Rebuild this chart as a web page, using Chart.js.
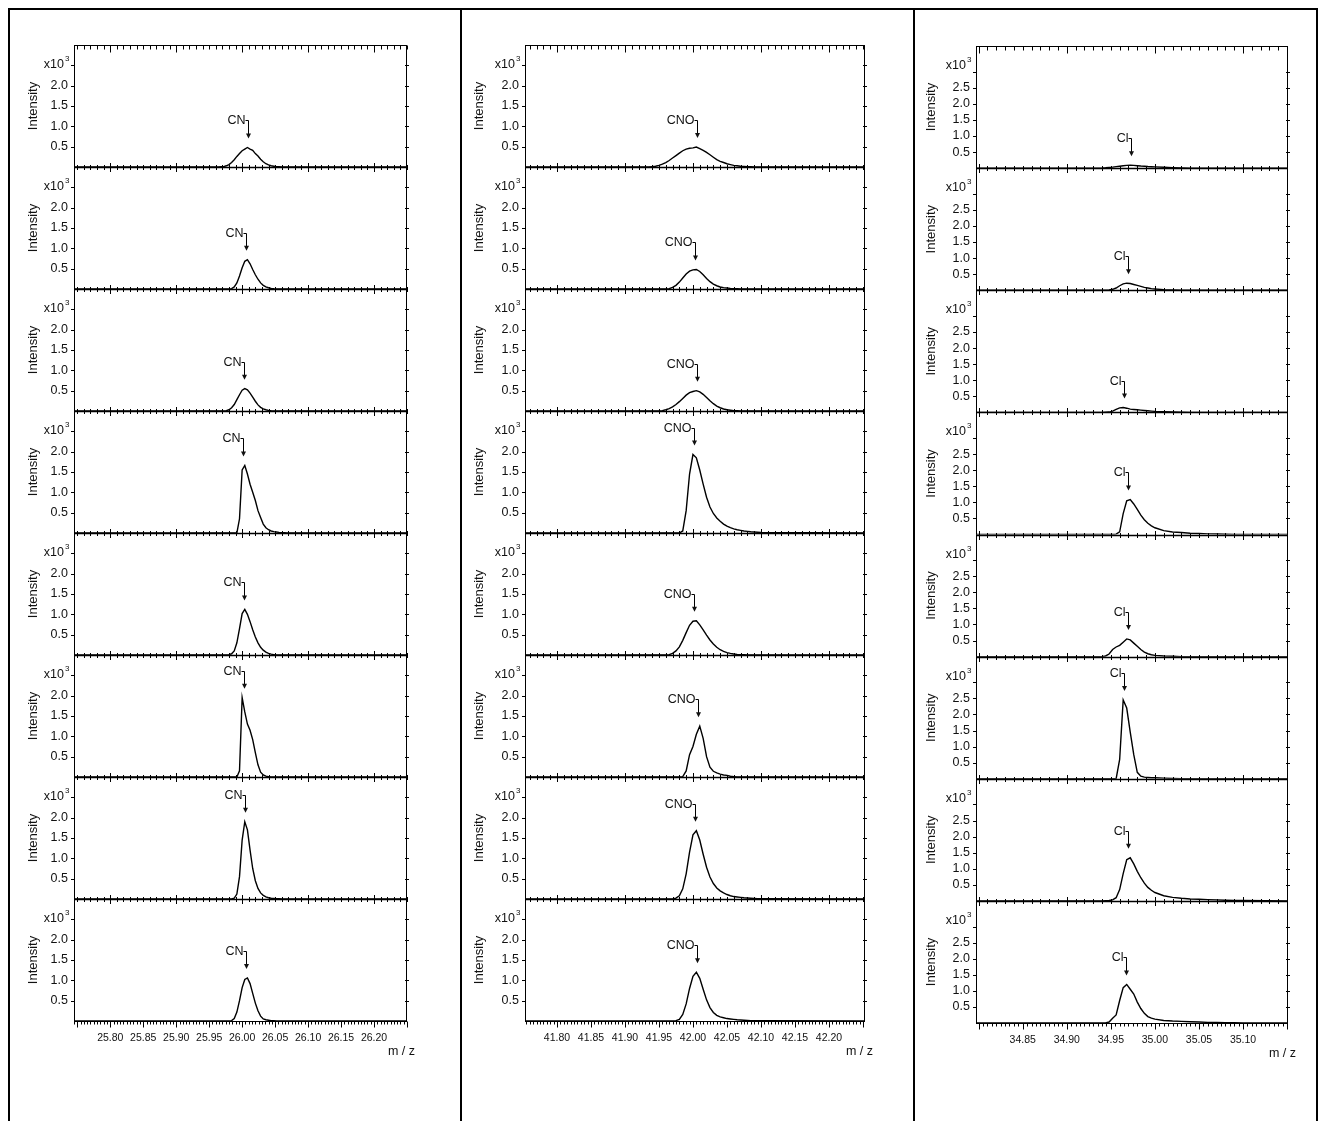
<!DOCTYPE html>
<html lang="en">
<head>
<meta charset="UTF-8">
<title>Mass spectra CN / CNO / Cl</title>
<style>
  body { margin: 0; background: #fff; overflow: hidden; }
  #frame { position: absolute; left: 8px; top: 8px; width: 1306px; height: 1200px; border: 2px solid #000; border-bottom: none; }
  .divider { position: absolute; top: 8px; width: 2px; height: 1200px; background: #000; }
  canvas { position: absolute; top: 10px; }
</style>
</head>
<body>
<div id="frame"></div>
<div class="divider" style="left:460px"></div>
<div class="divider" style="left:913px"></div>
<canvas id="cnChart" width="449" height="1111" style="left:10px"></canvas>
<canvas id="cnoChart" width="450" height="1111" style="left:462px"></canvas>
<canvas id="clChart" width="401" height="1111" style="left:915px"></canvas>
<script src="https://cdn.jsdelivr.net/npm/chart.js"></script>
<script>
// ---- CN column (m/z around 26.00), intensities in x10^3 ----
const cnRange = [25.745, 26.25];
const cnTicks = ['25.80', '25.85', '25.90', '25.95', '26.00', '26.05', '26.10', '26.15', '26.20'];
const cnYTicks = ['0.5', '1.0', '1.5', '2.0'];
const cnArrow = [26.009, 26.006, 26.003, 26.0015, 26.003, 26.003, 26.0045, 26.006];
const cnMz = [25.745, 25.960, 25.964, 25.968, 25.972, 25.976, 25.980, 25.984, 25.988, 25.992, 25.996,
  26.000, 26.004, 26.008, 26.012, 26.016, 26.020, 26.024, 26.028, 26.032, 26.036, 26.040, 26.044,
  26.048, 26.052, 26.056, 26.060, 26.064, 26.068, 26.072, 26.076, 26.080, 26.250];
const cn1 = [0, 0, 0, 0.005, 0.01, 0.03, 0.06, 0.11, 0.18, 0.26, 0.33, 0.4, 0.44, 0.48, 0.44, 0.41, 0.33, 0.27, 0.19, 0.13, 0.08, 0.05, 0.03, 0.02, 0.01, 0.005, 0, 0, 0, 0, 0, 0, 0];
const cn2 = [0, 0, 0, 0, 0, 0, 0, 0.01, 0.05, 0.15, 0.32, 0.52, 0.68, 0.72, 0.62, 0.48, 0.35, 0.24, 0.15, 0.09, 0.05, 0.03, 0.015, 0.005, 0, 0, 0, 0, 0, 0, 0, 0, 0];
const cn3 = [0, 0, 0, 0, 0, 0.01, 0.03, 0.08, 0.16, 0.28, 0.4, 0.51, 0.55, 0.52, 0.44, 0.34, 0.24, 0.15, 0.09, 0.05, 0.03, 0.015, 0.005, 0, 0, 0, 0, 0, 0, 0, 0, 0, 0];
const cn4 = [0, 0, 0, 0, 0, 0, 0, 0, 0, 0, 0.35, 1.55, 1.66, 1.45, 1.2, 1.0, 0.8, 0.55, 0.38, 0.22, 0.13, 0.08, 0.05, 0.035, 0.025, 0.015, 0.01, 0.005, 0, 0, 0, 0, 0];
const cn5 = [0, 0, 0, 0, 0, 0, 0.01, 0.03, 0.1, 0.3, 0.65, 1.02, 1.12, 1.0, 0.82, 0.62, 0.44, 0.3, 0.19, 0.12, 0.07, 0.04, 0.02, 0.01, 0, 0, 0, 0, 0, 0, 0, 0, 0];
const cn6 = [0, 0, 0, 0, 0, 0, 0, 0, 0, 0, 0.15, 1.95, 1.6, 1.3, 1.15, 0.92, 0.6, 0.3, 0.12, 0.05, 0.02, 0.01, 0, 0, 0, 0, 0, 0, 0, 0, 0, 0, 0];
const cn7 = [0, 0, 0, 0, 0, 0, 0, 0, 0.02, 0.12, 0.55, 1.45, 1.9, 1.7, 1.2, 0.75, 0.45, 0.26, 0.15, 0.09, 0.05, 0.03, 0.02, 0.015, 0.01, 0.005, 0, 0, 0, 0, 0, 0, 0];
const cn8 = [0, 0, 0, 0, 0, 0, 0, 0.01, 0.06, 0.22, 0.5, 0.82, 1.02, 1.06, 0.92, 0.68, 0.44, 0.25, 0.12, 0.05, 0.03, 0.02, 0.01, 0.005, 0, 0, 0, 0, 0, 0, 0, 0, 0];

// ---- CNO column (m/z around 42.00) ----
const cnoRange = [41.753, 42.253];
const cnoTicks = ['41.80', '41.85', '41.90', '41.95', '42.00', '42.05', '42.10', '42.15', '42.20'];
const cnoYTicks = ['0.5', '1.0', '1.5', '2.0'];
const cnoArrow = [42.006, 42.003, 42.006, 42.0015, 42.0015, 42.0074, 42.003, 42.006];
const cnoMz = [41.753, 41.930, 41.935, 41.940, 41.945, 41.950, 41.955, 41.960, 41.965, 41.970, 41.975,
  41.980, 41.985, 41.990, 41.995, 42.000, 42.005, 42.010, 42.015, 42.020, 42.025, 42.030, 42.035,
  42.040, 42.045, 42.050, 42.055, 42.060, 42.065, 42.070, 42.075, 42.080, 42.085, 42.090, 42.095,
  42.100, 42.253];
const cno1 = [0, 0, 0, 0.01, 0.02, 0.04, 0.07, 0.11, 0.16, 0.22, 0.28, 0.34, 0.4, 0.44, 0.46, 0.47, 0.49, 0.45, 0.41, 0.36, 0.3, 0.24, 0.18, 0.14, 0.11, 0.08, 0.06, 0.04, 0.03, 0.02, 0.015, 0.01, 0.005, 0, 0, 0, 0];
const cno2 = [0, 0, 0, 0, 0, 0, 0, 0, 0.01, 0.04, 0.09, 0.17, 0.27, 0.37, 0.44, 0.47, 0.48, 0.43, 0.35, 0.26, 0.18, 0.12, 0.08, 0.05, 0.035, 0.025, 0.015, 0.01, 0.005, 0, 0, 0, 0, 0, 0, 0, 0];
const cno3 = [0, 0, 0, 0, 0, 0, 0.01, 0.03, 0.06, 0.1, 0.16, 0.23, 0.31, 0.39, 0.45, 0.48, 0.5, 0.47, 0.41, 0.33, 0.25, 0.18, 0.12, 0.08, 0.05, 0.03, 0.02, 0.01, 0.005, 0, 0, 0, 0, 0, 0, 0, 0];
const cno4 = [0, 0, 0, 0, 0, 0, 0, 0, 0, 0, 0, 0, 0.05, 0.55, 1.45, 1.93, 1.85, 1.55, 1.2, 0.88, 0.64, 0.48, 0.37, 0.29, 0.22, 0.17, 0.13, 0.1, 0.08, 0.065, 0.05, 0.04, 0.03, 0.025, 0.02, 0.015, 0];
const cno5 = [0, 0, 0, 0, 0, 0, 0, 0, 0.01, 0.04, 0.1, 0.2, 0.36, 0.55, 0.73, 0.83, 0.84, 0.74, 0.62, 0.49, 0.37, 0.27, 0.19, 0.13, 0.09, 0.06, 0.04, 0.025, 0.015, 0.01, 0.005, 0, 0, 0, 0, 0, 0];
const cno6 = [0, 0, 0, 0, 0, 0, 0, 0, 0, 0, 0, 0, 0.01, 0.15, 0.55, 0.75, 1.05, 1.25, 0.95, 0.5, 0.24, 0.14, 0.1, 0.07, 0.05, 0.04, 0.02, 0.01, 0, 0, 0, 0, 0, 0, 0, 0, 0];
const cno7 = [0, 0, 0, 0, 0, 0, 0, 0, 0, 0, 0.02, 0.08, 0.25, 0.62, 1.15, 1.58, 1.68, 1.45, 1.1, 0.78, 0.54, 0.38, 0.27, 0.2, 0.15, 0.11, 0.08, 0.06, 0.05, 0.04, 0.03, 0.025, 0.02, 0.015, 0.01, 0.01, 0];
const cno8 = [0, 0, 0, 0, 0, 0, 0, 0, 0, 0, 0.01, 0.04, 0.16, 0.42, 0.8, 1.1, 1.2, 1.05, 0.78, 0.52, 0.33, 0.21, 0.14, 0.1, 0.08, 0.06, 0.05, 0.04, 0.03, 0.025, 0.02, 0.015, 0.01, 0.01, 0.005, 0.005, 0];

// ---- Cl column (m/z around 34.97) ----
const clRange = [34.797, 35.151];
const clTicks = ['34.85', '34.90', '34.95', '35.00', '35.05', '35.10'];
const clYTicks = ['0.5', '1.0', '1.5', '2.0', '2.5'];
const clArrow = [34.9727, 34.9693, 34.9648, 34.9693, 34.9693, 34.9648, 34.9693, 34.967];
const clMz = [34.797, 34.940, 34.944, 34.948, 34.952, 34.956, 34.960, 34.964, 34.968, 34.972, 34.976,
  34.980, 34.984, 34.988, 34.992, 34.996, 35.000, 35.010, 35.020, 35.030, 35.040, 35.050, 35.060,
  35.070, 35.080, 35.090, 35.100, 35.151];
const cl1 = [0, 0.005, 0.01, 0.02, 0.03, 0.045, 0.06, 0.075, 0.085, 0.09, 0.085, 0.075, 0.065, 0.06, 0.05, 0.045, 0.04, 0.025, 0.015, 0.005, 0, 0, 0, 0, 0, 0, 0, 0];
const cl2 = [0, 0, 0.005, 0.01, 0.03, 0.07, 0.14, 0.2, 0.22, 0.21, 0.18, 0.15, 0.12, 0.09, 0.07, 0.05, 0.04, 0.02, 0.01, 0.005, 0, 0, 0, 0, 0, 0, 0, 0];
const cl3 = [0, 0, 0.005, 0.01, 0.04, 0.09, 0.14, 0.15, 0.13, 0.1, 0.09, 0.08, 0.07, 0.06, 0.05, 0.04, 0.03, 0.02, 0.01, 0.005, 0, 0, 0, 0, 0, 0, 0, 0];
const cl4 = [0, 0, 0, 0, 0, 0.01, 0.08, 0.65, 1.05, 1.09, 0.95, 0.78, 0.6, 0.46, 0.35, 0.27, 0.21, 0.12, 0.08, 0.06, 0.04, 0.03, 0.02, 0.015, 0.01, 0.005, 0, 0];
const cl5 = [0, 0, 0.02, 0.08, 0.22, 0.3, 0.35, 0.45, 0.55, 0.52, 0.42, 0.32, 0.22, 0.14, 0.09, 0.06, 0.04, 0.02, 0.01, 0, 0, 0, 0, 0, 0, 0, 0, 0];
const cl6 = [0, 0, 0, 0, 0, 0, 0.6, 2.45, 2.2, 1.45, 0.75, 0.2, 0.08, 0.05, 0.04, 0.03, 0.03, 0.02, 0.01, 0.005, 0, 0, 0, 0, 0, 0, 0, 0];
const cl7 = [0, 0, 0.005, 0.01, 0.03, 0.1, 0.35, 0.85, 1.28, 1.34, 1.15, 0.92, 0.72, 0.55, 0.42, 0.33, 0.26, 0.16, 0.11, 0.08, 0.06, 0.05, 0.04, 0.03, 0.02, 0.015, 0.01, 0];
const cl8 = [0, 0, 0, 0.03, 0.15, 0.25, 0.7, 1.1, 1.2, 1.05, 0.9, 0.65, 0.45, 0.3, 0.2, 0.15, 0.12, 0.08, 0.06, 0.05, 0.04, 0.03, 0.02, 0.015, 0.01, 0.01, 0.005, 0];

const FONT = '"Liberation Sans", Arial, sans-serif';
Chart.defaults.font.family = FONT;
Chart.defaults.color = '#111';

// horizontal panel border with m/z tick marks: 'in' (top), 'cross' (between panels), 'out' (bottom)
function hAxis(ctx, xs, y, kind) {
  const yy = Math.round(y) + 0.5;
  ctx.lineWidth = kind === 'cross' ? 1.6 : 1;
  ctx.beginPath();
  ctx.moveTo(xs.left, yy);
  ctx.lineTo(xs.right, yy);
  ctx.stroke();
  ctx.lineWidth = 1;
  const minor = kind === 'out' ? 0.005 : 0.01;
  const n0 = Math.ceil(xs.min / minor - 1e-6), n1 = Math.floor(xs.max / minor + 1e-6);
  ctx.beginPath();
  for (let n = n0; n <= n1; n++) {
    const x = Math.round(xs.getPixelForValue(n * minor)) + 0.5;
    const big = n % 10 === 0;
    if (kind === 'in') { ctx.moveTo(x, yy); ctx.lineTo(x, yy + (big ? 7 : 4)); }
    else if (kind === 'out') { ctx.moveTo(x, yy); ctx.lineTo(x, yy + (big ? 6 : 3)); }
    else { const h = big ? 4.5 : 2.5; ctx.moveTo(x, yy - h); ctx.lineTo(x, yy + h); }
  }
  ctx.stroke();
}

const panelFrames = {
  id: 'panelFrames',
  afterDraw(chart, args, opts) {
    const ctx = chart.ctx;
    const xs = chart.scales.x;
    const left = chart.chartArea.left, right = chart.chartArea.right;
    ctx.save();
    ctx.strokeStyle = '#000';
    ctx.fillStyle = '#111';
    opts.panels.forEach((id, i) => {
      const ys = chart.scales[id];
      const top = ys.top, bottom = ys.bottom;
      ctx.lineWidth = 1;
      ctx.beginPath();
      ctx.moveTo(left + 0.5, top); ctx.lineTo(left + 0.5, bottom);
      ctx.moveTo(right - 0.5, top); ctx.lineTo(right - 0.5, bottom);
      for (let v = 0.5; v <= opts.tickMax + 0.01; v += 0.5) {
        const y = Math.round(ys.getPixelForValue(v)) + 0.5;
        ctx.moveTo(left - 3, y); ctx.lineTo(left + 0.5, y);
        ctx.moveTo(right - 2, y); ctx.lineTo(right + 2, y);
      }
      ctx.stroke();
      if (i === 0) hAxis(ctx, xs, top, 'in');
      hAxis(ctx, xs, bottom, i === opts.panels.length - 1 ? 'out' : 'cross');

      // x10^3 multiplier
      ctx.font = '12.5px ' + FONT;
      ctx.textAlign = 'right';
      ctx.textBaseline = 'alphabetic';
      ctx.fillText('x10', left - 10, top + 23);
      ctx.font = '8px ' + FONT;
      ctx.textAlign = 'left';
      ctx.fillText('3', left - 9, top + 16);

      // peak label with arrow
      const pts = chart.data.datasets[i].data;
      const peak = Math.max(...pts.map(p => p.y));
      const xp = Math.round(xs.getPixelForValue(opts.arrowX[i])) + 0.5;
      const tip = ys.getPixelForValue(peak) - 9;
      const stub = Math.round(tip - 18) + 0.5;
      ctx.font = '12.5px ' + FONT;
      ctx.textAlign = 'right';
      ctx.fillText(opts.label, xp - 3, stub + 3);
      ctx.beginPath();
      ctx.moveTo(xp - 3, stub); ctx.lineTo(xp, stub); ctx.lineTo(xp, tip - 4);
      ctx.stroke();
      ctx.beginPath();
      ctx.moveTo(xp - 2.5, tip - 5); ctx.lineTo(xp + 2.5, tip - 5); ctx.lineTo(xp, tip);
      ctx.closePath();
      ctx.fill();
    });

    // m / z axis name, slightly past the right end of the axis
    const last = chart.scales[opts.panels[opts.panels.length - 1]];
    ctx.font = '12.5px ' + FONT;
    ctx.textAlign = 'right';
    ctx.textBaseline = 'middle';
    ctx.fillText('m / z', right + 8, last.bottom + 31);
    ctx.restore();
  }
};

function makeColumn(canvasId, mz, rows, range, xTicks, yTicks, arrowX, label, lay) {
  const ids = rows.map((_, i) => 'p' + (i + 1));
  const scales = {
    x: {
      type: 'linear', position: 'bottom', min: range[0], max: range[1],
      grid: { display: false, drawTicks: false }, border: { display: false },
      afterBuildTicks: s => { s.ticks = xTicks.map(t => ({ value: +t })); },
      afterFit: s => { s.height = 42; },
      ticks: { padding: 11, font: { size: 10.5 }, maxRotation: 0, autoSkip: false, callback: v => v.toFixed(2) }
    }
  };
  // the last stacked axis listed ends up on top, so add the bottom panel first
  for (let i = rows.length - 1; i >= 0; i--) {
    scales[ids[i]] = {
      type: 'linear', position: 'left', stack: 'col', stackWeight: 1, offset: false,
      min: 0, max: lay.yMax,
      grid: { display: false, drawTicks: false }, border: { display: false },
      afterBuildTicks: s => { s.ticks = yTicks.map(t => ({ value: +t })); },
      afterFit: s => { s.width = lay.yWidth; },
      ticks: { padding: 6, font: { size: 12.5 }, autoSkip: false, callback: v => v.toFixed(1) },
      title: { display: true, text: 'Intensity', font: { size: 13 }, padding: { top: lay.titlePad, bottom: 0 } }
    };
  }
  return new Chart(document.getElementById(canvasId), {
    type: 'line',
    data: {
      datasets: rows.map((ys, i) => ({
        label: label + ' ' + (i + 1),
        data: mz.map((x, k) => ({ x: x, y: ys[k] })),
        yAxisID: ids[i],
        borderColor: '#000',
        borderWidth: 1.4,
        pointRadius: 0,
        fill: false,
        tension: 0
      }))
    },
    options: {
      responsive: false,
      animation: false,
      events: [],
      layout: { padding: lay.padding },
      scales: scales,
      plugins: {
        legend: { display: false },
        tooltip: { enabled: false },
        panelFrames: { panels: ids, arrowX: arrowX, label: label, tickMax: lay.tickMax }
      }
    },
    plugins: [panelFrames]
  });
}

makeColumn('cnChart', cnMz, [cn1, cn2, cn3, cn4, cn5, cn6, cn7, cn8], cnRange, cnTicks, cnYTicks, cnArrow, 'CN',
  { yMax: 3.0, tickMax: 2.5, yWidth: 64, titlePad: 16, padding: { left: 0, right: 52, top: 35, bottom: 58 } });
makeColumn('cnoChart', cnoMz, [cno1, cno2, cno3, cno4, cno5, cno6, cno7, cno8], cnoRange, cnoTicks, cnoYTicks, cnoArrow, 'CNO',
  { yMax: 3.0, tickMax: 2.5, yWidth: 63, titlePad: 10, padding: { left: 0, right: 47, top: 35, bottom: 58 } });
makeColumn('clChart', clMz, [cl1, cl2, cl3, cl4, cl5, cl6, cl7, cl8], clRange, clTicks, clYTicks, clArrow, 'Cl',
  { yMax: 3.8, tickMax: 3.0, yWidth: 61, titlePad: 9, padding: { left: 0, right: 28, top: 36, bottom: 56 } });
</script>
</body>
</html>
